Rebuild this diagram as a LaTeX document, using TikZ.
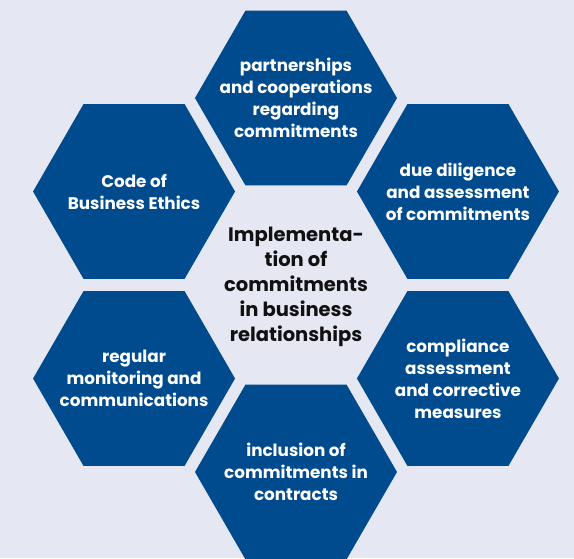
\documentclass[tikz,border=0pt]{standalone}
\usepackage{fontspec}
\setmainfont{Poppins}
\usepackage{xcolor}
\usepackage{tikz}
\usetikzlibrary{shapes.geometric}

\definecolor{cellblue}{HTML}{004A8E}
\definecolor{panel}{HTML}{E5E7F2}
\definecolor{hubtext}{HTML}{111111}

\begin{document}
\begin{tikzpicture}[x=1pt, y=1pt,
			every node/.style={align=center},
			hexa/.style={regular polygon, regular polygon sides=6, minimum size=202pt, inner sep=-16pt, fill=cellblue, text=white, font=\bfseries\fontsize{16.8}{22}\selectfont},
			hub/.style={text=hubtext, font=\bfseries\fontsize{19.5}{25}\selectfont}]
			\useasboundingbox[fill=panel] (-296,-273) rectangle (278,285);
			% centre text, six cells around it
			\node[hub] (hub) at (0,-2) {Implementa-\\tion of\\commitments\\in business\\relationships};
			\node[hexa] (partners) at (90:187) {partnerships\\and cooperations\\regarding\\commitments};
			\node[hexa] (diligence) at (30:187) {due diligence\\and assessment\\of commitments};
			\node[hexa] (compliance) at (-30:187) {compliance\\assessment\\and corrective\\measures};
			\node[hexa] (contracts) at (-90:187) {inclusion of\\commitments in\\contracts};
			\node[hexa] (monitoring) at (-150:187) {regular\\monitoring and\\communications};
			\node[hexa] (ethics) at (150:187) {Code of\\Business Ethics};
		\end{tikzpicture}
\end{document}
